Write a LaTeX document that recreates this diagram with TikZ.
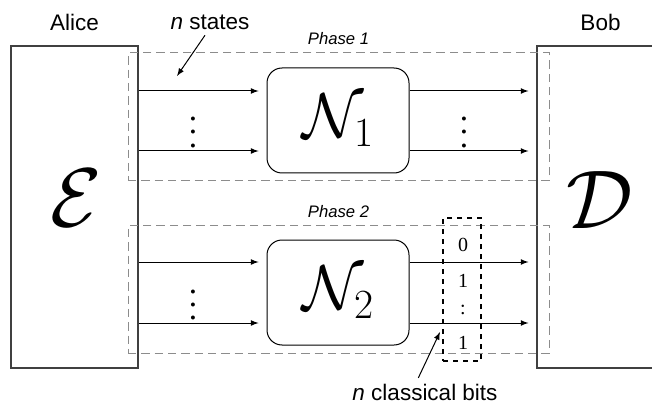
\documentclass[tikz,border=0pt]{standalone}
\usepackage{fontspec}
\setmainfont{Liberation Serif}
\setsansfont{Liberation Sans}
\usetikzlibrary{positioning}
% scalable calligraphic letters
\DeclareFontShape{OMS}{cmsy}{m}{n}{<->cmsy10}{}

\begin{document}
\begin{tikzpicture}[x=0.6pt,y=-0.6pt,
    party/.style={draw=black!75,line width=0.7pt,minimum width=76.2pt,minimum height=193.2pt},
    phasebox/.style={draw=black!45,dash pattern=on 5pt off 3pt,line width=0.6pt,minimum width=252.6pt,minimum height=76.8pt},
    chan/.style={draw,rounded corners=9pt,line width=0.6pt,minimum width=85.2pt,minimum height=63pt,font=\fontsize{38}{40}\selectfont},
    bigmap/.style={font=\fontsize{50}{55}\selectfont},
    tag/.style={font=\sffamily\fontsize{13.5}{16}\selectfont},
    phasetag/.style={font=\sffamily\itshape\fontsize{10}{12}\selectfont},
    flow/.style={-latex,line width=0.6pt,shorten >=4.8pt},
    pointer/.style={-latex,line width=0.6pt},
    bit/.style={font=\fontsize{12}{14}\selectfont,inner sep=1pt}]
  \clip (0,0) rectangle (652,406);

  \node[party] (alice) at (74.5,207) {};
  \node[party] (bob) at (600.5,207) {};
  \node[bigmap] (enc) at (76,198) {$\mathcal{E}$};
  \node[bigmap] (dec) at (600,200) {$\mathcal{D}$};
  \node[tag, above=5.5pt of alice] (alicetag) {Alice};
  \node[tag, above=5.5pt of bob] (bobtag) {Bob};

  \node[phasebox] (phaseA) at (338.5,117) {};
  \node[phasebox] (phaseB) at (338.5,289.5) {};
  \node[phasetag, above=1pt of phaseA] (phaseAtag) {Phase 1};
  \node[phasetag, above=1pt of phaseB] (phaseBtag) {Phase 2};

  \node[chan] (chanA) at (338,120.5) {$\mathcal{N}_1$};
  \node[chan] (chanB) at (338,292.5) {$\mathcal{N}_2$};

  % wires in and out of each channel
  \coordinate (rowA1) at (0,91);
  \coordinate (rowA2) at (0,151);
  \coordinate (rowB1) at (0,262);
  \coordinate (rowB2) at (0,323);
  \foreach \r/\c in {rowA1/chanA,rowA2/chanA,rowB1/chanB,rowB2/chanB} {
    \path [flow] (alice.east |- \r) edge (\c.west |- \r);
    \path [flow] (\c.east |- \r) edge (bob.west |- \r);
  }

  \node (dotsA1) at (193,122.5) {\scalebox{2}{$\vdots$}};
  \node (dotsA2) at (464,122.5) {\scalebox{2}{$\vdots$}};
  \node (dotsB1) at (193,295) {\scalebox{2}{$\vdots$}};

  % classical outcome of phase 2
  \node[draw,dashed,line width=1pt,minimum width=22.8pt,minimum height=85.8pt] (bits) at (462,289.5) {};
  \foreach \b/\y [count=\i] in {0/245,1/281,:/310,1/343}
    \node[bit] (bit\i) at (463,\y) {\b};

  \node[tag] (nstates) at (210,22) {\textit{n} states};
  \coordinate (statestip) at (177,76);
  \path [pointer] ([xshift=-3pt]nstates.south) edge (statestip);

  \node[tag] (nbits) at (425,392) {\textit{n} classical bits};
  \coordinate (bitstip) at (440,332);
  \path [pointer] ([xshift=-4pt]nbits.north) edge (bitstip);
\end{tikzpicture}
\end{document}
